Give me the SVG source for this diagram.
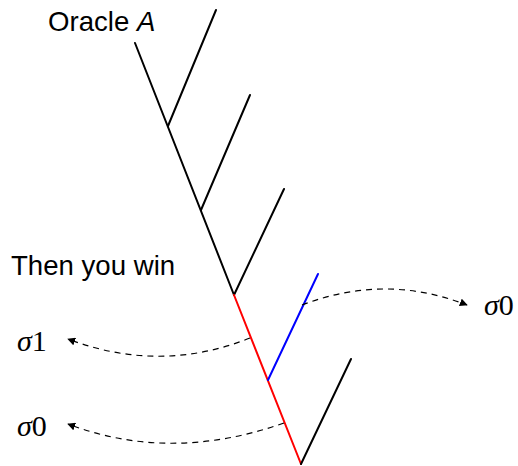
<svg xmlns="http://www.w3.org/2000/svg" width="518" height="466" viewBox="0 0 518 466">
<style>
.t{font-family:"Liberation Sans","DejaVu Sans",sans-serif;font-size:27.6px;fill:#000}
.m{font-family:"Liberation Serif","DejaVu Serif",serif;font-size:30px;fill:#000}
.e{stroke-width:2;stroke-linecap:round;fill:none}
.d{stroke:#000;stroke-width:1.2;fill:none;stroke-dasharray:6 5}
</style>
<defs>
<marker id="ah" viewBox="0 0 10 10" refX="9" refY="5" markerWidth="8" markerHeight="8" markerUnits="userSpaceOnUse" orient="auto">
<path d="M0,0 L10,5 L0,10 Z" fill="#000"/>
</marker>
</defs>
<g id="tree">
<g id="spine-black"><path class="e" stroke="#000" d="M135,43 L234,295"/></g>
<g id="branch1"><path class="e" stroke="#000" d="M168,126 L216,10"/></g>
<g id="branch2"><path class="e" stroke="#000" d="M201,210 L250,95"/></g>
<g id="branch3"><path class="e" stroke="#000" d="M234,295 L284,189"/></g>
<g id="spine-red"><path class="e" stroke="#ff0000" d="M234,295 L301,464"/></g>
<g id="branch-blue"><path class="e" stroke="#0000ff" d="M268,380 L318,274"/></g>
<g id="branch-last"><path class="e" stroke="#000" d="M301,464 L351,359"/></g>
</g>
<g id="labels">
<g id="oracle"><text class="t" x="48" y="31">Oracle <tspan font-style="italic">A</tspan></text></g>
<g id="win"><text class="t" x="11" y="275">Then you win</text></g>
<g id="s1"><text class="m" x="17" y="351"><tspan font-style="italic">σ</tspan>1</text></g>
<g id="s0a"><text class="m" x="17" y="436"><tspan font-style="italic">σ</tspan>0</text></g>
<g id="s0b"><text class="m" x="484" y="315"><tspan font-style="italic">σ</tspan>0</text></g>
</g>
<g id="connectors">
<path class="d" marker-end="url(#ah)" d="M250,338 Q160,374 68,339"/>
<path class="d" marker-end="url(#ah)" d="M284,423 Q170,463 68,424"/>
<path class="d" marker-end="url(#ah)" d="M302,305 Q385,273 467,305"/>
</g>
</svg>
